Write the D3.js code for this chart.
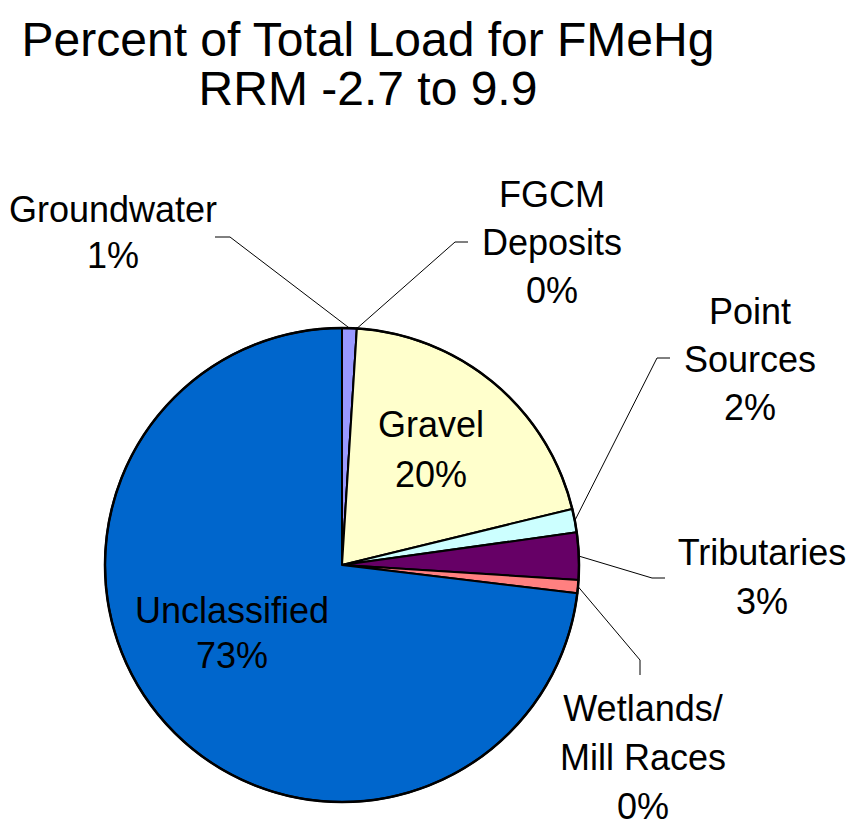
<!DOCTYPE html>
<html>
<head>
<meta charset="utf-8">
<script src="https://cdn.jsdelivr.net/npm/d3@7"></script>
<style>
  html, body { margin: 0; padding: 0; background: #ffffff; }
  svg { display: block; }
  text { font-family: "Liberation Sans", Arial, sans-serif; fill: #000; }
</style>
</head>
<body>
<script>
// ---- Data ----
const categories = ["Groundwater", "FGCM Deposits", "Gravel", "Point Sources", "Tributaries", "Wetlands/ Mill Races", "Unclassified"];
const values = [1.0, 0.0, 20.2, 1.6, 3.2, 0.9, 73.1];
const percentLabels = ["1%", "0%", "20%", "2%", "3%", "0%", "73%"];
const nameLines = [["Groundwater"], ["FGCM", "Deposits"], ["Gravel"], ["Point", "Sources"], ["Tributaries"], ["Wetlands/", "Mill Races"], ["Unclassified"]];
const titleLines = ["Percent of Total Load for FMeHg", "RRM -2.7 to 9.9"];

// ---- Styles / layout ----
const colors = ["#9999FF", "#993366", "#FFFFCC", "#CCFFFF", "#660066", "#FF8080", "#0066CC"];
const W = 867, H = 827;
const cx = 342, cy = 565, R = 237;
const labelLayout = [
  { x: 113, y: 222, lh: 46, elbow: [230, 237], end: [215, 237] },
  { x: 552, y: 207, lh: 48, elbow: [455, 242], end: [468, 242] },
  { x: 431, y: 437, lh: 50, elbow: null, end: null },
  { x: 750, y: 324, lh: 48, elbow: [657, 358], end: [670, 358] },
  { x: 762, y: 565, lh: 49, elbow: [652, 578], end: [665, 578] },
  { x: 643, y: 721, lh: 49, elbow: [640, 660], end: [640, 675] },
  { x: 232, y: 623, lh: 45, elbow: null, end: null }
];

const svg = d3.select("body").append("svg").attr("width", W).attr("height", H);

// Title
svg.append("g").selectAll("text").data(titleLines).join("text")
  .attr("x", 368).attr("y", (d, i) => 56 + i * 49)
  .attr("text-anchor", "middle")
  .style("font-size", "48px")
  .text(d => d);

// Pie
const pie = d3.pie().sort(null).value(d => d).startAngle(0).endAngle(2 * Math.PI);
const arcs = pie(values);
const arc = d3.arc().innerRadius(0).outerRadius(R);

const g = svg.append("g").attr("transform", `translate(${cx},${cy})`);
g.selectAll("path").data(arcs).join("path")
  .attr("d", arc)
  .attr("fill", (d, i) => colors[i])
  .attr("stroke", "#000")
  .attr("stroke-width", 2)
  .attr("stroke-linejoin", "round");

// outer border
g.append("circle").attr("r", R).attr("fill", "none").attr("stroke", "#000").attr("stroke-width", 2.5);

// Leader lines
arcs.forEach((a, i) => {
  const L = labelLayout[i];
  if (!L.elbow) return;
  const mid = (a.startAngle + a.endAngle) / 2;
  const sx = cx + R * Math.sin(mid), sy = cy - R * Math.cos(mid);
  svg.append("polyline")
    .attr("points", [[sx, sy], L.elbow, L.end].map(p => p.join(",")).join(" "))
    .attr("fill", "none")
    .attr("stroke", "#000")
    .attr("stroke-width", 1);
});

// Labels
arcs.forEach((a, i) => {
  const L = labelLayout[i];
  const lines = nameLines[i].concat([percentLabels[i]]);
  svg.append("g").selectAll("text").data(lines).join("text")
    .attr("x", L.x).attr("y", (d, k) => L.y + k * L.lh)
    .attr("text-anchor", "middle")
    .style("font-size", "36px")
    .text(d => d);
});
</script>
</body>
</html>
